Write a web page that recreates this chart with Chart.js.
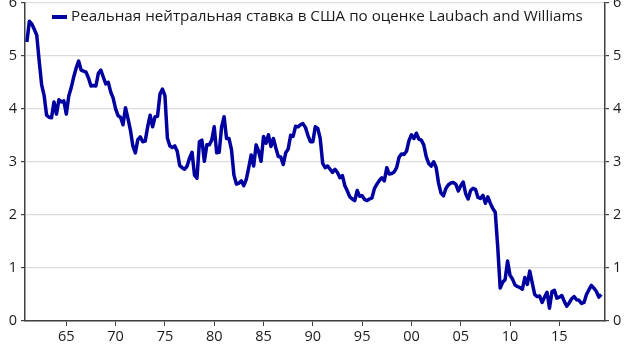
<!DOCTYPE html>
<html>
<head>
<meta charset="utf-8">
<script src="https://cdn.jsdelivr.net/npm/chart.js@4.4.1/dist/chart.umd.min.js"></script>
<style>
  html, body { margin: 0; padding: 0; background: #fff; overflow: hidden; }
  #wrap { position: relative; width: 630px; height: 355px; overflow: hidden; }
  #myChart { position: absolute; left: 0; top: -10px; }
</style>
</head>
<body>
<div id="wrap"><canvas id="myChart" width="630" height="365"></canvas></div>
<script>
const seriesName = 'Реальная нейтральная ставка в США по оценке Laubach and Williams';
const startYear = 1961;
const xTicks = [1965, 1970, 1975, 1980, 1985, 1990, 1995, 2000, 2005, 2010, 2015];
const yTicks = [0, 1, 2, 3, 4, 5, 6];

// quarterly values, 1961Q1 .. 2019Q2
const rate = [
    5.26, 5.65, 5.6, 5.5,     // 1961
    5.39, 4.9, 4.45, 4.25,
    3.88, 3.84, 3.83, 4.13,
    3.9, 4.17, 4.13, 4.15,
    3.9, 4.24, 4.4, 4.6,      // 1965
    4.77, 4.9, 4.73, 4.71,
    4.69, 4.58, 4.43, 4.44,
    4.43, 4.67, 4.73, 4.6,
    4.47, 4.5, 4.32, 4.2,
    4.0, 3.87, 3.84, 3.7,     // 1970
    4.02, 3.82, 3.6, 3.3,
    3.17, 3.42, 3.47, 3.38,
    3.39, 3.66, 3.88, 3.66,
    3.85, 3.86, 4.28, 4.37,
    4.25, 3.45, 3.3, 3.27,    // 1975
    3.3, 3.2, 2.93, 2.89,
    2.86, 2.92, 3.07, 3.18,
    2.75, 2.69, 3.38, 3.41,
    3.01, 3.32, 3.32, 3.41,
    3.66, 3.17, 3.18, 3.66,   // 1980
    3.85, 3.44, 3.44, 3.23,
    2.75, 2.58, 2.6, 2.64,
    2.55, 2.67, 2.89, 3.13,
    2.92, 3.32, 3.2, 3.01,
    3.48, 3.35, 3.51, 3.29,   // 1985
    3.44, 3.26, 3.1, 3.09,
    2.95, 3.17, 3.24, 3.5,
    3.48, 3.67, 3.66, 3.7,
    3.72, 3.65, 3.5, 3.38,
    3.38, 3.66, 3.63, 3.44,   // 1990
    2.97, 2.89, 2.92, 2.86,
    2.8, 2.86, 2.8, 2.7,
    2.74, 2.55, 2.45, 2.34,
    2.3, 2.27, 2.46, 2.35,
    2.36, 2.29, 2.27, 2.3,    // 1995
    2.32, 2.5, 2.58, 2.65,
    2.7, 2.64, 2.89, 2.77,
    2.78, 2.81, 2.89, 3.09,
    3.15, 3.14, 3.2, 3.4,
    3.51, 3.44, 3.54, 3.43,   // 2000
    3.41, 3.32, 3.1, 2.97,
    2.92, 3.0, 2.9, 2.6,
    2.41, 2.36, 2.5, 2.57,
    2.6, 2.61, 2.58, 2.45,
    2.55, 2.62, 2.4, 2.3,     // 2005
    2.46, 2.5, 2.48, 2.33,
    2.31, 2.37, 2.22, 2.34,
    2.22, 2.12, 2.05, 1.4,
    0.62, 0.73, 0.78, 1.13,
    0.86, 0.79, 0.68, 0.65,   // 2010
    0.63, 0.6, 0.82, 0.69,
    0.94, 0.72, 0.5, 0.46,
    0.47, 0.35, 0.45, 0.54,
    0.24, 0.55, 0.58, 0.43,
    0.45, 0.48, 0.37, 0.28,   // 2015
    0.34, 0.42, 0.46, 0.4,
    0.39, 0.33, 0.35, 0.5,
    0.59, 0.67, 0.62, 0.56,
    0.45, 0.5                 // 2019
];

const quarters = rate.map((v, i) => startYear + i / 4);

const lineColor = '#0000a0';
const axisColor = '#404040';
const textColor = '#1a1a1a';
const fontFamily = '"Open Sans", "Noto Sans", sans-serif';

const topLegend = {
    id: 'topLegend',
    afterDraw(chart) {
        const c = chart.ctx;
        const x0 = chart.chartArea.left + 27;
        const y0 = 27;
        c.save();
        c.strokeStyle = lineColor;
        c.lineWidth = 4;
        c.beginPath();
        c.moveTo(x0, y0);
        c.lineTo(x0 + 15, y0);
        c.stroke();
        c.font = '15.2px ' + fontFamily;
        c.fillStyle = textColor;
        c.textBaseline = 'middle';
        c.fillText(seriesName, x0 + 19, y0);
        c.restore();
    }
};

const yAxis = (pos) => ({
    type: 'linear',
    position: pos,
    min: 0,
    max: 6,
    afterBuildTicks: s => { s.ticks = yTicks.map(v => ({ value: v })); },
    afterFit: s => { s.width = 25; },
    border: { display: true, color: axisColor, width: 1.5 },
    grid: {
        drawOnChartArea: pos === 'left',
        color: '#dcdcdc',
        lineWidth: 1.2,
        tickColor: axisColor,
        tickLength: 4
    },
    ticks: {
        padding: 4,
        color: textColor,
        font: { family: fontFamily, size: 14.5 }
    }
});

const data = {
    datasets: [{
        label: seriesName,
        data: rate.map((v, i) => ({ x: quarters[i], y: v })),
        borderColor: lineColor,
        borderWidth: 3.5,
        pointRadius: 0,
        tension: 0,
        borderJoinStyle: 'round',
        yAxisID: 'y'
    }]
};

const config = {
    type: 'line',
    data: data,
    options: {
        responsive: false,
        animation: false,
        layout: { padding: { top: 7, left: 0, right: 0, bottom: 0 } },
        plugins: { legend: { display: false }, tooltip: { enabled: false } },
        scales: {
            x: {
                type: 'linear',
                min: 1960.81,
                max: 2019.63,
                afterBuildTicks: s => { s.ticks = xTicks.map(v => ({ value: v })); },
                afterFit: s => { s.height = 34; },
                border: { display: true, color: axisColor, width: 1.5 },
                grid: { drawOnChartArea: false, tickColor: axisColor, tickLength: 5 },
                ticks: {
                    padding: 2,
                    color: textColor,
                    maxRotation: 0,
                    font: { family: fontFamily, size: 14.5 },
                    callback: v => String(v % 100).padStart(2, '0')
                }
            },
            y: yAxis('left'),
            y2: yAxis('right')
        }
    },
    plugins: [topLegend]
};

const chart = new Chart(document.getElementById('myChart'), config);
</script>
</body>
</html>
